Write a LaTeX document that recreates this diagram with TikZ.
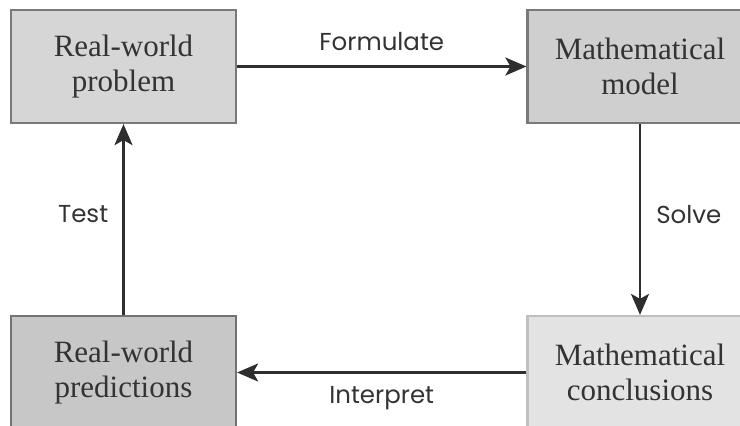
\documentclass[tikz,border=0pt]{standalone}
\usepackage{fontspec}
\setmainfont{Liberation Serif}
\newfontfamily\labelfont{Poppins}
\usetikzlibrary{arrows.meta,positioning}
\definecolor{boxtext}{HTML}{333333}
\definecolor{arrowgray}{HTML}{2E2E2E}
\tikzset{
    stage/.style={draw=gray!95!black, line width=2.2pt, text=boxtext,
        minimum width=225pt, minimum height=113pt, align=center,
        font=\fontsize{31}{35}\selectfont, inner sep=0pt},
    step arrow/.style={draw=arrowgray, line width=2.6pt,
        -{Stealth[length=21pt,width=18pt,inset=5pt]}},
    steplabel/.style={text=boxtext, font=\labelfont\fontsize{24.5}{28}\selectfont, inner sep=0pt},
}
\begin{document}
\begin{tikzpicture}[x=1pt,y=-1pt]
		\useasboundingbox (0,0) rectangle (740,426);
		% The four stages
		\node[stage, fill=black!16] (problem) at (123.5,66.5) {Real-world\\problem};
		\node[stage, fill=black!19] (model) at (640,66.5) {Mathematical\\model};
		\node[stage, fill=black!11, draw=black!25] (conclusions) at (640,372.5) {Mathematical\\conclusions};
		\node[stage, fill=black!22, draw=black!55] (predictions) at (123.5,372.5) {Real-world\\predictions};
		% The cycle
		\draw[step arrow] (problem) -- node[steplabel, above=14pt] (formulate) {Formulate} (model);
		\draw[step arrow] (model) -- node[steplabel, right=15pt, yshift=5pt] (solve) {Solve} (conclusions);
		\draw[step arrow] (conclusions) -- node[steplabel, below=13pt] (interpret) {Interpret} (predictions);
		\draw[step arrow] (predictions) -- node[steplabel, left=14pt, yshift=5pt] (test) {Test} (problem);
	\end{tikzpicture}
\end{document}
